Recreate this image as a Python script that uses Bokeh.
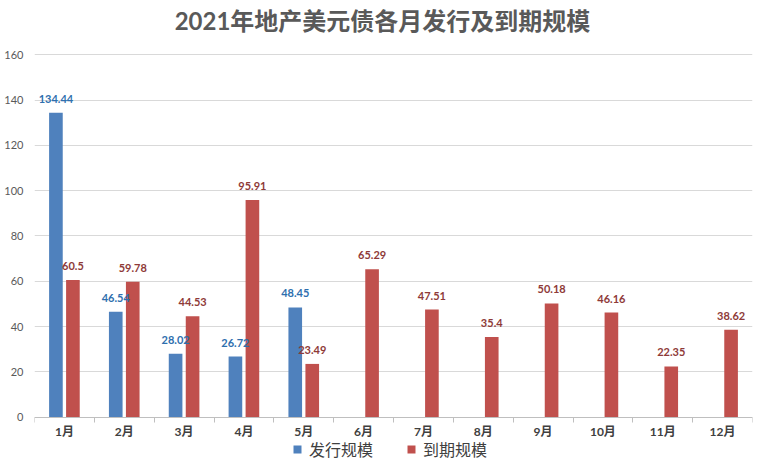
import numpy as np
from bokeh.plotting import figure
from bokeh.models import ColumnDataSource, FixedTicker, Legend, LegendItem, Range1d, Label
from bokeh.transform import dodge
from bokeh.core.properties import value
from bokeh.embed import file_html
from bokeh.resources import INLINE

months = ["1月", "2月", "3月", "4月", "5月", "6月", "7月", "8月", "9月", "10月", "11月", "12月"]
issue = [134.44, 46.54, 28.02, 26.72, 48.45]
mature = [60.5, 59.78, 44.53, 95.91, 23.49, 65.29, 47.51, 35.4, 50.18, 46.16, 22.35, 38.62]
y_ticks = [0, 20, 40, 60, 80, 100, 120, 140, 160]
title = "2021年地产美元债各月发行及到期规模"
series_names = ["发行规模", "到期规模"]

BLUE = "#4f81bd"
RED = "#c0504d"
NUM_FONT = "Lato, 'Noto Sans CJK SC'"
CJK_FONT = "'Noto Sans CJK SC'"

idx = list(range(1, len(months) + 1))
src_i = ColumnDataSource(dict(x=idx[:len(issue)], y=issue, t=[str(v) for v in issue]))
src_m = ColumnDataSource(dict(x=idx, y=mature, t=[str(v) for v in mature]))

# frame spans the full height so that title and legend sit inside it
p = figure(width=759, height=464, output_backend="svg", toolbar_location=None,
           x_range=Range1d(0.5, len(months) + 0.5), y_range=Range1d(-20.93, 183.98),
           min_border_left=34, min_border_right=7, min_border_top=0, min_border_bottom=0)
p.outline_line_color = None
p.background_fill_color = "white"
p.border_fill_color = "white"

p.add_layout(Label(x=348, y=444, x_units="screen", y_units="screen", text=title,
                   text_align="center", text_baseline="middle",
                   text_font=NUM_FONT, text_font_size="24px", text_font_style="bold",
                   text_color="#595959"))

off = 0.142
w = 0.228
r1 = p.vbar(x=dodge("x", -off), top="y", width=w, source=src_i, fill_color=BLUE, line_color=None)
r2 = p.vbar(x=dodge("x", off), top="y", width=w, source=src_m, fill_color=RED, line_color=None)

p.text(x=dodge("x", -off), y="y", text="t", source=src_i, y_offset=-10,
       text_align="center", text_baseline="bottom", text_font=value(NUM_FONT),
       text_font_size="11px", text_font_style="bold", text_color="#2e6fae")
p.text(x=dodge("x", off), y="y", text="t", source=src_m, y_offset=-10,
       text_align="center", text_baseline="bottom", text_font=value(NUM_FONT),
       text_font_size="11px", text_font_style="bold", text_color="#8e3a38")

# y axis
p.yaxis.ticker = FixedTicker(ticks=y_ticks)
p.yaxis.axis_line_color = None
p.yaxis.major_tick_line_color = None
p.yaxis.major_tick_out = 0
p.yaxis.major_tick_in = 0
p.yaxis.minor_tick_line_color = None
p.yaxis.major_label_standoff = 11
p.yaxis.major_label_text_font = NUM_FONT
p.yaxis.major_label_text_font_size = "11px"
p.yaxis.major_label_text_color = "#595959"
p.ygrid.grid_line_color = "#d9d9d9"
p.ygrid.ticker = FixedTicker(ticks=y_ticks)

# x axis, drawn at y = 0
p.xaxis.fixed_location = 0
p.xaxis.ticker = FixedTicker(ticks=idx, minor_ticks=[i + 0.5 for i in range(len(months) + 1)])
p.xaxis.major_label_overrides = {i: m for i, m in zip(idx, months)}
p.xaxis.axis_line_color = "#bfbfbf"
p.xaxis.major_tick_line_color = None
p.xaxis.major_tick_out = 0
p.xaxis.major_tick_in = 0
p.xaxis.minor_tick_line_color = "#bfbfbf"
p.xaxis.minor_tick_out = 5
p.xaxis.minor_tick_in = 0
p.xaxis.major_label_standoff = 2
p.xaxis.major_label_text_font = NUM_FONT
p.xaxis.major_label_text_font_size = "12px"
p.xaxis.major_label_text_font_style = "bold"
p.xaxis.major_label_text_color = "#404040"
p.xgrid.grid_line_color = None

legend = Legend(items=[LegendItem(label=series_names[0], renderers=[r1]),
                       LegendItem(label=series_names[1], renderers=[r2])],
                location=(258, 3), orientation="horizontal",
                glyph_width=10, glyph_height=10, label_height=16,
                label_standoff=7, spacing=33, padding=0, margin=0,
                label_text_font=CJK_FONT, label_text_font_size="16px",
                label_text_color="#404040", border_line_color=None,
                background_fill_alpha=0)
p.add_layout(legend, "center")

open("out.html", "w").write(file_html(p, INLINE))
